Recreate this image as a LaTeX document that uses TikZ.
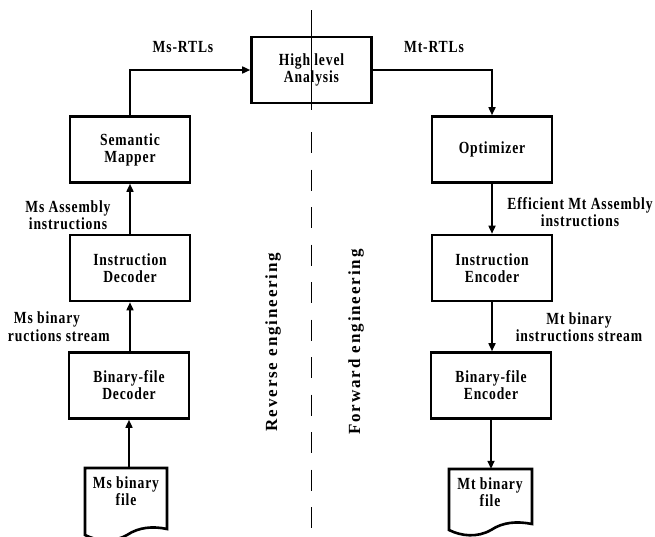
\documentclass[tikz,border=0pt]{standalone}
\usepackage{fontspec}
\setmainfont{Liberation Serif}[FakeStretch=0.8, LetterSpace=5]
\newfontfamily\rotfont{Liberation Serif}[LetterSpace=11]
\usetikzlibrary{arrows.meta}
\tikzset{
  txt/.style={font=\fontsize{17}{17}\selectfont\bfseries, align=center, inner sep=0pt},
  boxnode/.style={txt, draw, line width=2.6pt, minimum width=120pt, minimum height=66pt},
  docnode/.style={txt, minimum width=82pt, minimum height=46pt},
  boxline/.style={line width=2.6pt, line join=miter},
  arr/.style={line width=1.6pt, -{Triangle[length=8pt,width=7pt]}},
  rottxt/.style={font=\rotfont\fontsize{17}{17}\selectfont\bfseries, rotate=90, inner sep=0pt},
}
\begin{document}
\begin{tikzpicture}[x=1pt,y=-1pt]
\useasboundingbox (0,0) rectangle (655,536);
% divider
\coordinate (dtop) at (311.5,10);
\coordinate (dmid) at (311.5,110);
\coordinate (dstart) at (311.5,132);
\coordinate (dend) at (311.5,536);
\draw[line width=1.2pt] (dtop) -- (dmid);
\draw[line width=1.2pt, dash pattern=on 21pt off 16.5pt] (dstart) -- (dend);

% boxes
\node[boxnode] (hla) at (311.5,70) {High level\\Analysis};
\node[boxnode] (sm) at (130,149.5) {Semantic\\Mapper};
\node[boxnode] (id) at (130,268) {Instruction\\Decoder};
\node[boxnode] (bd) at (129,385.5) {Binary-file\\Decoder};
\node[boxnode] (opt) at (492,149.5) {Optimizer};
\node[boxnode] (ie) at (492,268) {Instruction\\Encoder};
\node[boxnode] (be) at (491,385.5) {Binary-file\\Encoder};

% documents
\node[docnode] (msdoc) at (126,491) {Ms binary\\file};
\draw[boxline] (85,468) -- (85,535) .. controls (97,541) and (113,543) .. (127,535)
  .. controls (139,527) and (153,526) .. (167,529) -- (167,468) -- cycle;
\node[docnode] (mtdoc) at (490,492) {Mt binary\\file};
\draw[boxline] (449,469) -- (449,530) .. controls (461,536) and (477,538) .. (491,530)
  .. controls (503,522) and (517,521) .. (532,524) -- (532,469) -- cycle;

% connectors
\draw[arr] (sm.north) |- (hla.west);
\draw[arr] (hla.east) -| (opt.north);
\draw[arr] (id.north) -- (sm.south);
\draw[arr] (bd.north -| id.south) -- (id.south);
\draw[arr] (msdoc.north -| bd.south) -- (bd.south);
\draw[arr] (opt.south) -- (ie.north);
\draw[arr] (ie.south) -- (ie.south |- be.north);
\draw[arr] (be.south) -- (be.south |- mtdoc.north);

% labels
\node[txt] (l1) at (183,47) {Ms-RTLs};
\node[txt] (l2) at (434,47) {Mt-RTLs};
\node[txt] (l3) at (68,215) {Ms Assembly\\instructions};
\node[txt] (l4) at (47,319) {Ms binary};
\node[txt, anchor=east] (l5) at (110,336) {ructions stream};
\node[txt] (l6) at (580,212) {Efficient Mt Assembly\\instructions};
\node[txt] (l7) at (579,327) {Mt binary\\instructions stream};

% rotated
\node[rottxt] (rev) at (273,342) {Reverse engineering};
\node[rottxt] (fwd) at (356,342) {Forward engineering};
\end{tikzpicture}
\end{document}
